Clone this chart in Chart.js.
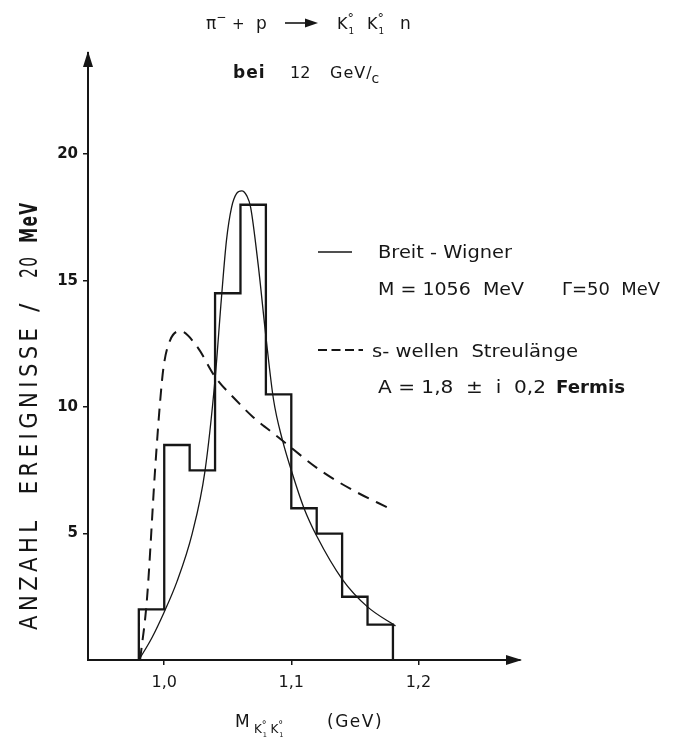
<!DOCTYPE html>
<html>
<head>
<meta charset="utf-8">
<script src="https://cdn.jsdelivr.net/npm/chart.js@4/dist/chart.umd.min.js"></script>
<style>
  html, body { margin: 0; padding: 0; background: #fff; }
</style>
</head>
<body>
<canvas id="chart" width="674" height="737"></canvas>
<script>
// histogram: 20 MeV bins
const binEdges = [0.98, 1.00, 1.02, 1.04, 1.06, 1.08, 1.10, 1.12, 1.14, 1.16, 1.18];
const binCounts = [2, 8.5, 7.5, 14.5, 18, 10.5, 6, 5, 2.5, 1.4];

// Breit-Wigner curve
const bwMass = [0.98, 0.99, 1.00, 1.01, 1.022, 1.032, 1.040, 1.045, 1.049, 1.053, 1.057, 1.061, 1.065, 1.068, 1.074, 1.080, 1.086, 1.093, 1.100, 1.110, 1.120, 1.140, 1.160, 1.182];
const bwValue = [0, 0.85, 1.9, 3.1, 5.0, 7.45, 11.1, 14.3, 16.6, 17.9, 18.45, 18.55, 18.35, 17.9, 15.6, 12.8, 10.3, 8.7, 7.5, 6.0, 4.9, 3.2, 2.1, 1.35];

// s-wave scattering length curve
const swMass = [0.981, 0.9864, 0.9929, 0.9969, 0.9995, 1.0047, 1.0126, 1.0257, 1.040, 1.056, 1.070, 1.090, 1.1228, 1.149, 1.177];
const swValue = [0, 2.4, 7.6, 10.3, 11.6, 12.65, 13.0, 12.4, 11.2, 10.3, 9.6, 8.8, 7.5, 6.7, 6.0];

const xTicks = [1.0, 1.1, 1.2];
const yTicks = [5, 10, 15, 20];

const FONT = "'DejaVu Sans', sans-serif";
const INK = '#161616';

function histPoints() {
    const pts = [{ x: binEdges[0], y: 0 }];
    binCounts.forEach((c, i) => pts.push({ x: binEdges[i], y: c }));
    const last = binEdges[binEdges.length - 1];
    pts.push({ x: last, y: binCounts[binCounts.length - 1] });
    pts.push({ x: last, y: 0 });
    return pts;
}

function zip(xs, ys) {
    return xs.map((x, i) => ({ x: x, y: ys[i] }));
}

function setFont(ctx, size, opts) {
    ctx.font = (opts.bold ? 'bold ' : '') + size + 'px ' + FONT;
    ctx.fillStyle = INK;
    ctx.textBaseline = 'alphabetic';
    ctx.textAlign = 'left';
    ctx.letterSpacing = (opts.spacing || 0) + 'px';
}

function txt(ctx, s, x, y, size, opts) {
    opts = opts || {};
    ctx.save();
    setFont(ctx, size, opts);
    ctx.fillText(s, x, y);
    const w = ctx.measureText(s).width;
    ctx.restore();
    return x + w;
}

// squeeze / stretch a string so it covers exactly len pixels
function fitTxt(ctx, s, x, y, len, size, opts) {
    opts = opts || {};
    ctx.save();
    setFont(ctx, size, opts);
    const w = ctx.measureText(s).width - (opts.spacing || 0);
    ctx.translate(x, y);
    ctx.scale(len / w, 1);
    ctx.fillText(s, 0, 0);
    ctx.restore();
}

// K with ° above and 1 below, as on the drawing
function kaon(ctx, x, y, size) {
    let e = txt(ctx, 'K', x, y, size);
    txt(ctx, '°', e, y - size * 0.45, size * 0.8);
    txt(ctx, '1', e + 1, y + size * 0.3, size * 0.55);
    return e + size * 0.55;
}

const decorations = {
    id: 'decorations',
    afterDraw(chart) {
        const ctx = chart.ctx;
        const a = chart.chartArea;
        ctx.save();
        ctx.fillStyle = INK;
        // arrow heads at the ends of the axes
        ctx.beginPath();
        ctx.moveTo(a.right + 2, a.bottom);
        ctx.lineTo(a.right - 14, a.bottom - 5);
        ctx.lineTo(a.right - 14, a.bottom + 5);
        ctx.closePath();
        ctx.fill();
        ctx.beginPath();
        ctx.moveTo(a.left, a.top - 2);
        ctx.lineTo(a.left - 5, a.top + 14);
        ctx.lineTo(a.left + 5, a.top + 14);
        ctx.closePath();
        ctx.fill();

        // title: reaction
        let x = txt(ctx, 'π', 206, 29, 17);
        txt(ctx, '−', x, 21, 12);
        txt(ctx, '+', 232, 29, 15);
        txt(ctx, 'p', 256, 29, 17);
        ctx.strokeStyle = INK;
        ctx.lineWidth = 1.6;
        ctx.beginPath();
        ctx.moveTo(285, 23);
        ctx.lineTo(308, 23);
        ctx.stroke();
        ctx.beginPath();
        ctx.moveTo(318, 23);
        ctx.lineTo(305, 18.5);
        ctx.lineTo(305, 27.5);
        ctx.closePath();
        ctx.fill();
        kaon(ctx, 337, 29, 16);
        kaon(ctx, 367, 29, 16);
        txt(ctx, 'n', 400, 29, 17);

        // energy
        txt(ctx, 'bei', 233, 78, 17, { bold: true, spacing: 1 });
        txt(ctx, '12', 290, 78, 16);
        x = txt(ctx, 'GeV', 330, 78, 16, { spacing: 1 });
        x = txt(ctx, '/', x, 78, 16);
        txt(ctx, 'c', x, 83, 14);

        // key
        ctx.lineWidth = 1.3;
        ctx.beginPath();
        ctx.moveTo(318, 252);
        ctx.lineTo(352, 252);
        ctx.stroke();
        ctx.lineWidth = 2;
        ctx.setLineDash([9, 4.5]);
        ctx.beginPath();
        ctx.moveTo(318, 350);
        ctx.lineTo(363, 350);
        ctx.stroke();
        ctx.setLineDash([]);

        fitTxt(ctx, 'Breit - Wigner', 378, 258, 134, 18);
        fitTxt(ctx, 'M = 1056  MeV', 378, 295, 146, 17);
        fitTxt(ctx, 'Γ=50  MeV', 562, 295, 98, 17);
        fitTxt(ctx, 's- wellen  Streulänge', 372, 357, 206, 18);
        fitTxt(ctx, 'A = 1,8  ±  i  0,2', 378, 393, 168, 17);
        fitTxt(ctx, 'Fermis', 556, 393, 69, 17, { bold: true });

        // x axis title
        txt(ctx, 'M', 235, 727, 17);
        x = kaon(ctx, 254, 733, 12);
        kaon(ctx, x + 2, 733, 12);
        txt(ctx, '(GeV)', 327, 727, 17, { spacing: 1.5 });

        // y axis title, rotated; local x runs upwards from y = 630
        ctx.translate(37, 630);
        ctx.rotate(-Math.PI / 2);
        fitTxt(ctx, 'ANZAHL  EREIGNISSE', 0, 0, 302, 24, { spacing: 5 });
        txt(ctx, '/', 318, 0, 25);
        fitTxt(ctx, '20', 352, 0, 21, 24, { spacing: 2 });
        fitTxt(ctx, 'MeV', 387, 0, 40, 24, { bold: true, spacing: 2 });
        ctx.restore();
    }
};

new Chart(document.getElementById('chart'), {
    type: 'scatter',
    data: {
        datasets: [
            {
                label: 'Ereignisse',
                data: histPoints(),
                showLine: true,
                stepped: 'before',
                borderColor: INK,
                borderWidth: 2.3,
                pointRadius: 0,
                fill: false
            },
            {
                label: 'Breit-Wigner',
                data: zip(bwMass, bwValue),
                showLine: true,
                cubicInterpolationMode: 'monotone',
                borderColor: INK,
                borderWidth: 1.3,
                pointRadius: 0,
                fill: false
            },
            {
                label: 's-wellen Streulänge',
                data: zip(swMass, swValue),
                showLine: true,
                cubicInterpolationMode: 'monotone',
                borderColor: INK,
                borderWidth: 2,
                borderDash: [12, 8],
                pointRadius: 0,
                fill: false
            }
        ]
    },
    options: {
        responsive: false,
        animation: false,
        layout: { padding: { top: 53, right: 154, left: 0, bottom: 0 } },
        plugins: {
            legend: { display: false },
            tooltip: { enabled: false }
        },
        scales: {
            x: {
                type: 'linear',
                min: 0.94,
                max: 1.28,
                afterBuildTicks: s => { s.ticks = xTicks.map(v => ({ value: v })); },
                afterFit: s => { s.height = 77; },
                grid: { drawOnChartArea: false, tickLength: 5, color: INK, lineWidth: 1.5 },
                border: { color: INK, width: 2 },
                ticks: {
                    color: INK,
                    padding: 8,
                    maxRotation: 0,
                    font: { family: FONT, size: 16 },
                    callback: v => v.toFixed(1).replace('.', ',')
                }
            },
            y: {
                min: 0,
                max: 24,
                afterBuildTicks: s => { s.ticks = yTicks.map(v => ({ value: v })); },
                afterFit: s => { s.width = 88; },
                grid: { drawOnChartArea: false, tickLength: 5, color: INK, lineWidth: 1.5 },
                border: { color: INK, width: 2 },
                ticks: {
                    color: INK,
                    padding: 5,
                    font: { family: FONT, size: 15, weight: 'bold' }
                }
            }
        }
    },
    plugins: [decorations]
});
</script>
</body>
</html>
